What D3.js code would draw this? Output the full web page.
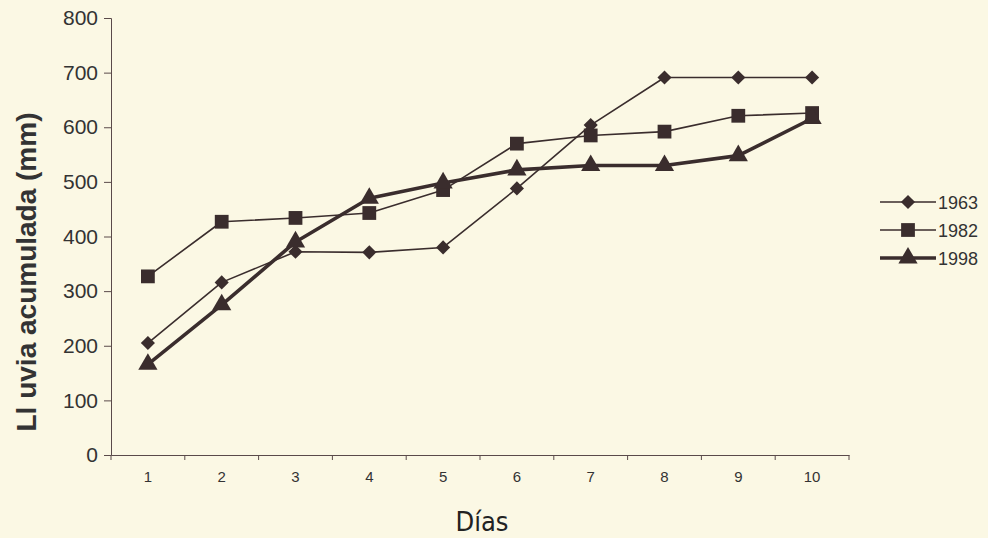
<!DOCTYPE html>
<html><head><meta charset="utf-8">
<script src="https://cdn.jsdelivr.net/npm/d3@7"></script>
<style>html,body{margin:0;padding:0;background:#fbf8e4;}svg{display:block;}</style>
</head><body>
<svg id="c" width="988" height="538"></svg>
<script>
const days = ["1","2","3","4","5","6","7","8","9","10"];
const s1963 = [205, 316, 372, 371, 380, 488, 604, 691, 691, 691];
const s1982 = [327, 427, 434, 443, 485, 570, 585, 592, 621, 626];
const s1998 = [166, 275, 390, 470, 498, 522, 530, 530, 548, 616];
const yTicks = [0,100,200,300,400,500,600,700,800];
const seriesNames = ["1963","1982","1998"];

const svg = d3.select("#c");
const ink = "#3a2d2d";
const txt = "#333";
const m = {l:111, r:849, t:18, b:455};
const x = d3.scaleBand().domain(days).range([m.l, m.r]);
const y = d3.scaleLinear().domain([0,800]).range([m.b, m.t]);

// y axis
const ya = svg.append("g").attr("transform",`translate(${m.l},0)`)
  .call(d3.axisLeft(y).tickValues(yTicks).tickSize(7).tickPadding(6));
ya.selectAll("text").attr("font-family","Liberation Sans, Arial, sans-serif").attr("font-size",21).attr("fill",txt);
ya.selectAll("line,path").attr("stroke","#5a4a4a");
// x axis
const xa = svg.append("g").attr("transform",`translate(0,${m.b})`)
  .call(d3.axisBottom(x).tickSize(0).tickPadding(16));
xa.selectAll("text").attr("font-family","Liberation Sans, Arial, sans-serif").attr("font-size",15).attr("fill",txt);
xa.select("path").attr("stroke","#5a4a4a");
xa.selectAll(".tick line").remove();
const edges = days.map(d=>x(d)).concat([x(days[days.length-1])+x.bandwidth()]);
svg.append("g").selectAll("line").data(edges).join("line")
  .attr("x1",d=>d).attr("x2",d=>d).attr("y1",m.b).attr("y2",m.b+5)
  .attr("stroke","#5a4a4a");

svg.append("text").attr("transform",`translate(36,272) rotate(-90)`)
  .attr("text-anchor","middle").attr("font-family","Liberation Sans, Arial, sans-serif")
  .attr("font-weight","bold").attr("font-size",28).attr("fill",txt).text("Ll uvia acumulada (mm)");
svg.append("text").attr("x",482).attr("y",531).attr("text-anchor","middle")
  .attr("font-family","DejaVu Sans Condensed, sans-serif").attr("font-size",27).attr("fill","#222").text("Días");

const cx = d => x(d)+x.bandwidth()/2;
const series = [
  {name:seriesNames[0], vals:s1963, w:1.6, sym:d3.symbolSquare, size:100, rot:45},
  {name:seriesNames[1], vals:s1982, w:1.6, sym:d3.symbolSquare, size:190, rot:0},
  {name:seriesNames[2], vals:s1998, w:3.6, sym:d3.symbolTriangle, size:160, rot:0}
];
const line = d3.line().x((v,i)=>cx(days[i])).y(v=>y(v));
series.forEach(s=>{
  svg.append("path").datum(s.vals).attr("d",line).attr("fill","none")
    .attr("stroke",ink).attr("stroke-width",s.w).attr("stroke-linejoin","round");
  svg.append("g").selectAll("path").data(s.vals).join("path")
    .attr("transform",(v,i)=>`translate(${cx(days[i])},${y(v)}) rotate(${s.rot})`)
    .attr("d",d3.symbol().type(s.sym).size(s.size)).attr("fill",ink);
});

// legend
const lg = svg.append("g");
series.forEach((s,i)=>{
  const yy = 202 + i*28;
  lg.append("line").attr("x1",880).attr("x2",936).attr("y1",yy).attr("y2",yy)
    .attr("stroke",ink).attr("stroke-width",s.w);
  lg.append("path").attr("transform",`translate(908,${yy}) rotate(${s.rot})`)
    .attr("d",d3.symbol().type(s.sym).size(s.size)).attr("fill",ink);
  lg.append("text").attr("x",938).attr("y",yy+7).attr("font-family","Liberation Sans, Arial, sans-serif")
    .attr("font-size",18).attr("fill",txt).text(s.name);
});
</script>
</body></html>
